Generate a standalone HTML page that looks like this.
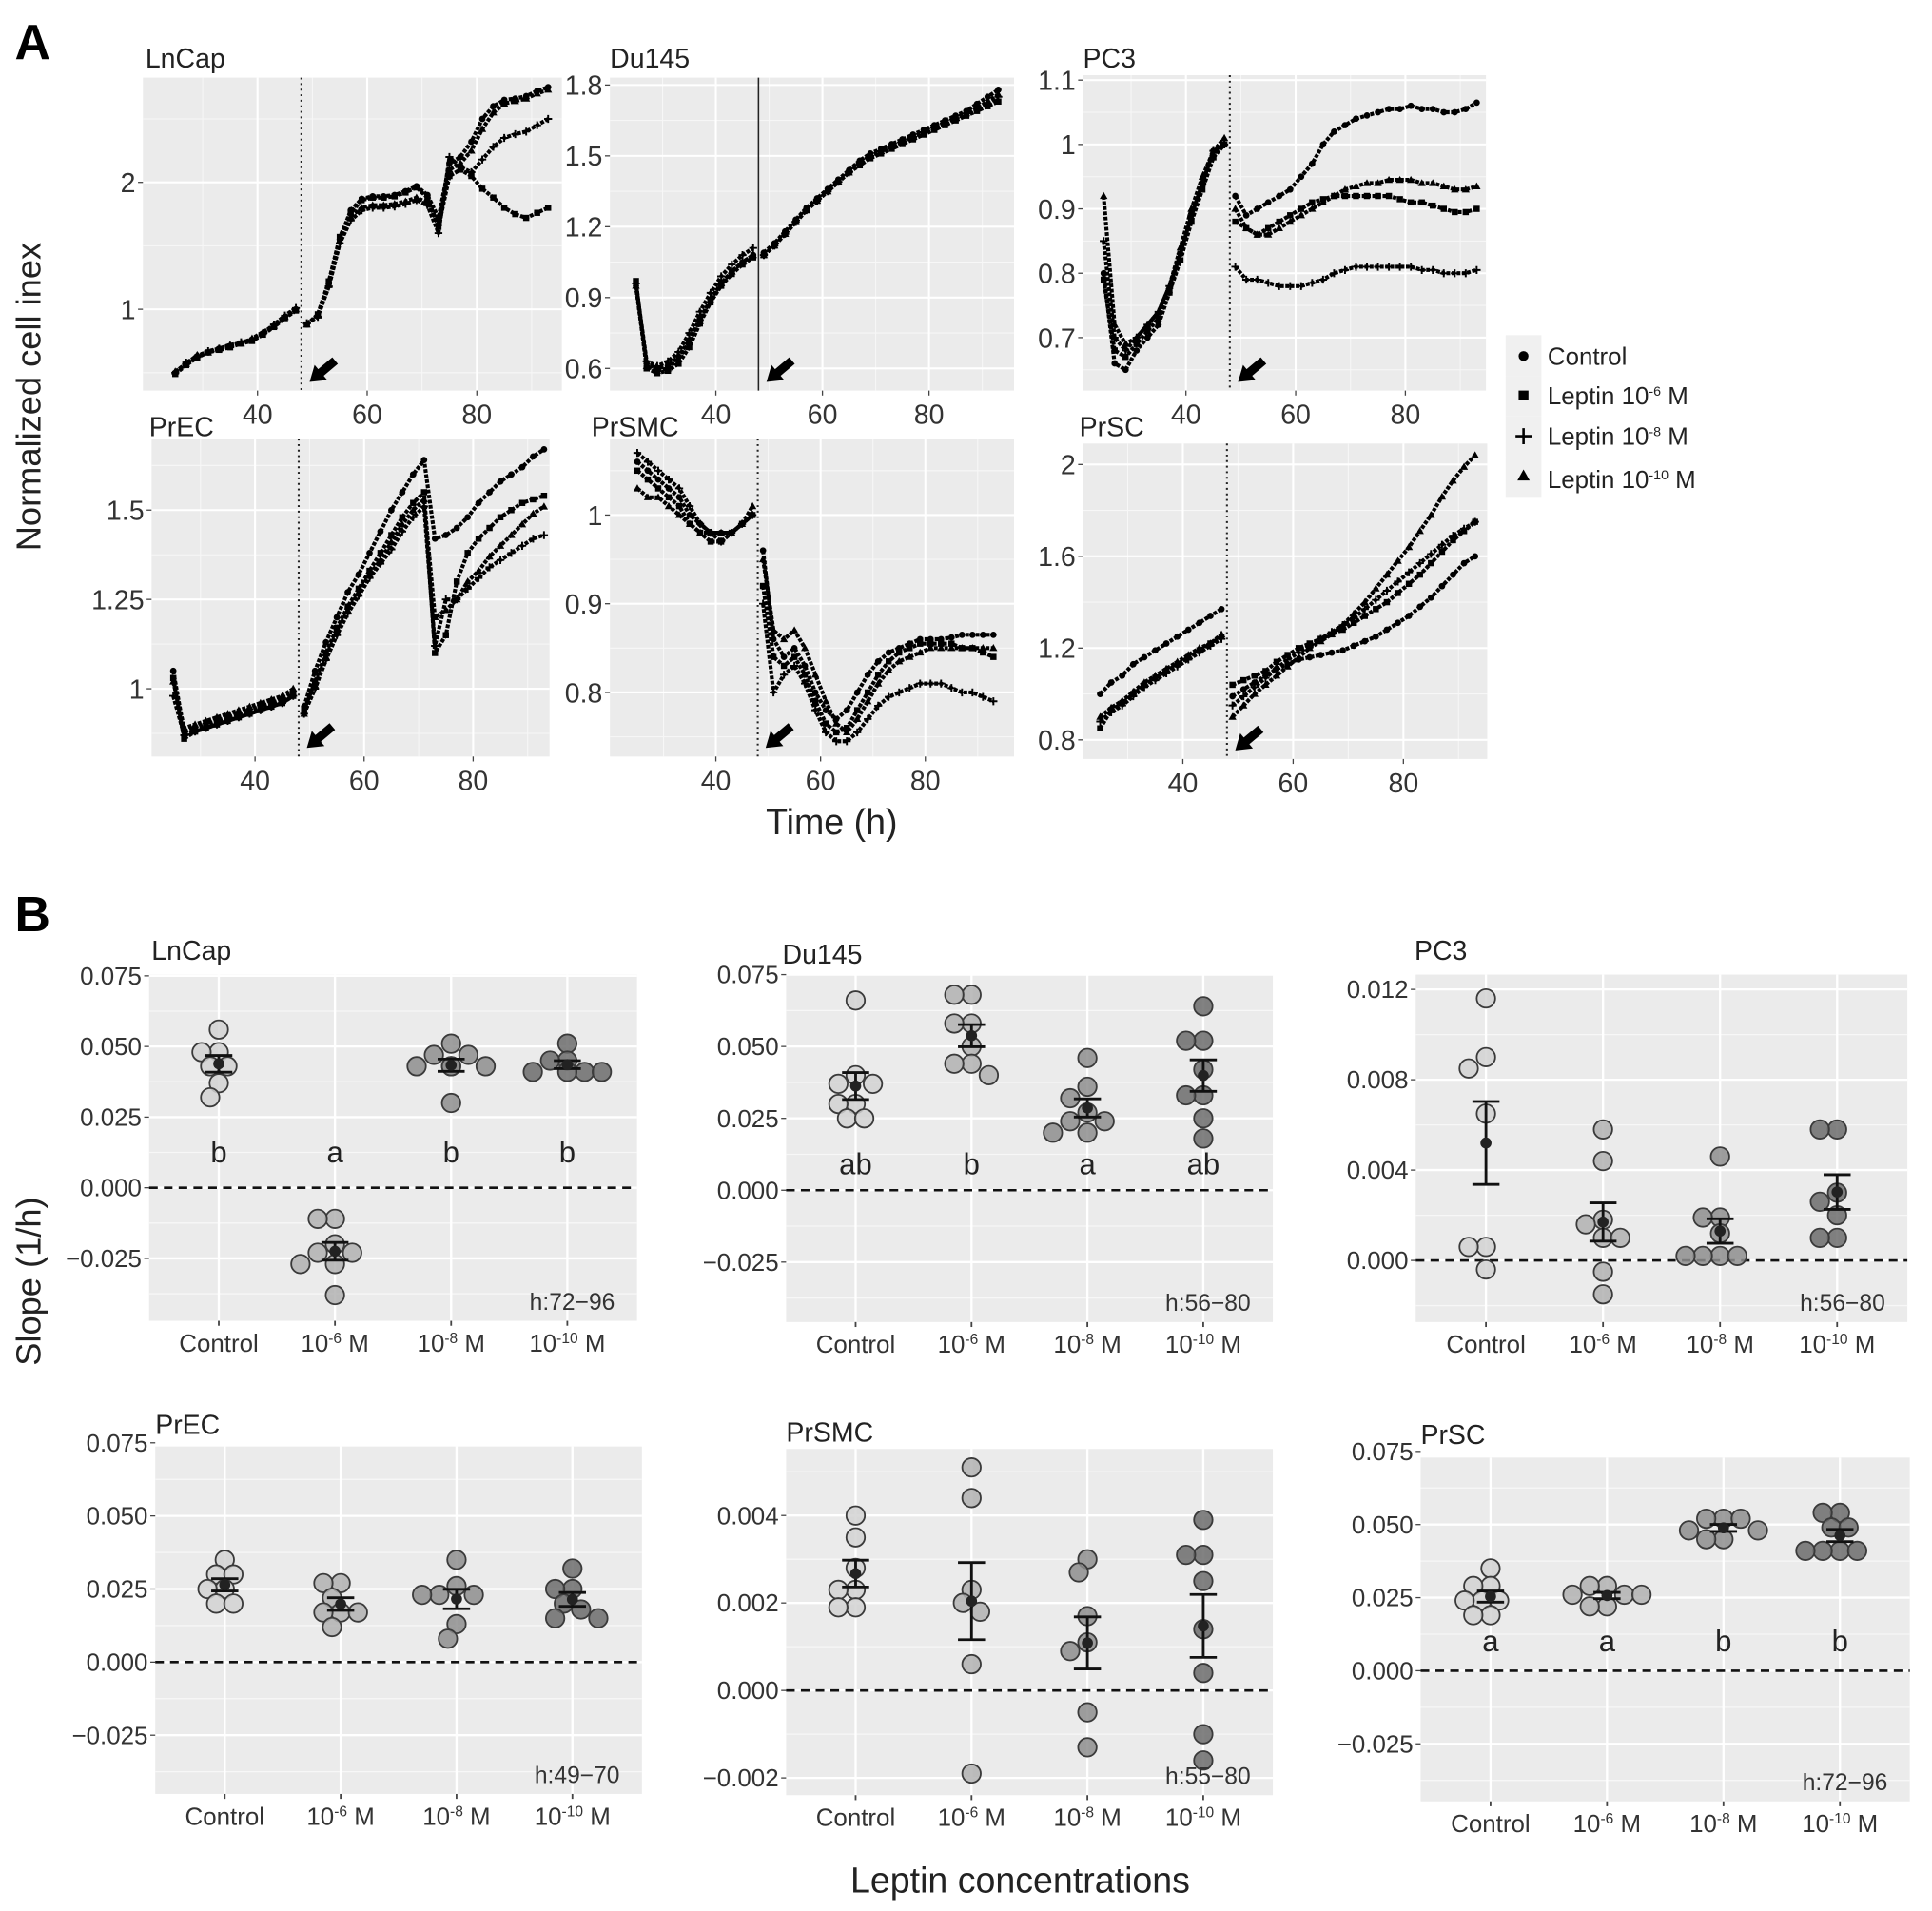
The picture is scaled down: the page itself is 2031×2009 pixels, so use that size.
<!DOCTYPE html>
<html><head><meta charset="utf-8"><style>
html,body{margin:0;padding:0;background:#fff;}
svg{display:block;font-family:"Liberation Sans",Arial,sans-serif;}
</style></head><body>
<svg id="fig" width="2031" height="2009" viewBox="0 0 1568 1551" preserveAspectRatio="none" xmlns="http://www.w3.org/2000/svg">
<rect x="0" y="0" width="1568" height="1551" fill="#fff"/>
<text x="12" y="48" font-size="40" font-weight="bold">A</text>
<text x="12" y="756" font-size="40" font-weight="bold">B</text>
<text transform="translate(33,322) rotate(-90)" text-anchor="middle" font-size="28" fill="#222">Normalized cell inex</text>
<text x="675" y="677" text-anchor="middle" font-size="29" fill="#222">Time (h)</text>
<text transform="translate(33,1040) rotate(-90)" text-anchor="middle" font-size="28" fill="#222">Slope (1/h)</text>
<text x="828" y="1536" text-anchor="middle" font-size="29" fill="#222">Leptin concentrations</text>
<g font-size="20" fill="#222">
<rect x="1222" y="272" width="29" height="33" fill="#f0f0f0"/>
<circle cx="1236.5" cy="289" r="4" fill="#000"/>
<text x="1256" y="296">Control</text>
<rect x="1222" y="305" width="29" height="33" fill="#f0f0f0"/>
<rect x="1232.5" y="317" width="8" height="8" fill="#000"/>
<text x="1256" y="328">Leptin 10<tspan dy="-7" font-size="11">-6</tspan><tspan dy="7"> M</tspan></text>
<rect x="1222" y="338" width="29" height="33" fill="#f0f0f0"/>
<path d="M1230 354H1243M1236.5 347.5V360.5" stroke="#000" stroke-width="2"/>
<text x="1256" y="361">Leptin 10<tspan dy="-7" font-size="11">-8</tspan><tspan dy="7"> M</tspan></text>
<rect x="1222" y="371" width="29" height="33" fill="#f0f0f0"/>
<polygon points="1236.5,381 1241.5,390 1231.5,390" fill="#000"/>
<text x="1256" y="396">Leptin 10<tspan dy="-7" font-size="11">-10</tspan><tspan dy="7"> M</tspan></text>
</g>
</svg>
<script>
// ---------- Panel A data ----------
const timesA = [25,27,29,31,33,35,37,39,41,43,45,47,49,51,53,55,57,59,61,63,65,67,69,71,73,75,77,79,81,83,85,87,89,91,93];
const xTicksA = [40,60,80];
const lncapCtrl = [0.50,0.57,0.63,0.66,0.69,0.71,0.73,0.76,0.81,0.87,0.94,1.00, 0.88,0.95,1.20,1.55,1.78,1.87,1.89,1.89,1.90,1.93,1.97,1.90,1.72,2.15,2.20,2.32,2.50,2.60,2.65,2.66,2.68,2.72,2.75];
const lncapL6 = [0.49,0.56,0.62,0.66,0.68,0.70,0.73,0.75,0.80,0.86,0.93,0.99, 0.88,0.96,1.22,1.57,1.76,1.86,1.88,1.88,1.89,1.92,1.96,1.88,1.65,2.05,2.10,2.05,1.95,1.88,1.80,1.75,1.72,1.76,1.80];
const lncapL8 = [0.50,0.58,0.63,0.67,0.69,0.71,0.74,0.76,0.81,0.88,0.95,1.01, 0.89,0.94,1.18,1.52,1.70,1.78,1.80,1.80,1.81,1.83,1.86,1.82,1.60,2.20,2.12,2.08,2.18,2.28,2.35,2.38,2.40,2.45,2.50];
const lncapL10 = [0.51,0.57,0.64,0.66,0.69,0.72,0.73,0.77,0.82,0.87,0.94,1.00, 0.88,0.95,1.19,1.54,1.73,1.80,1.82,1.82,1.83,1.85,1.88,1.84,1.68,2.10,2.15,2.25,2.42,2.55,2.62,2.64,2.66,2.70,2.73];
const lncapYTicks = [1,2];
const du145Ctrl = [0.95,0.62,0.60,0.61,0.65,0.72,0.81,0.89,0.96,1.01,1.05,1.08, 1.09,1.13,1.18,1.23,1.28,1.32,1.36,1.40,1.44,1.48,1.51,1.53,1.55,1.57,1.59,1.61,1.63,1.65,1.67,1.69,1.72,1.75,1.78];
const du145L6 = [0.97,0.60,0.58,0.59,0.62,0.69,0.79,0.88,0.95,1.00,1.04,1.07, 1.08,1.12,1.17,1.22,1.27,1.31,1.35,1.39,1.43,1.46,1.49,1.51,1.53,1.55,1.57,1.59,1.61,1.63,1.65,1.67,1.69,1.71,1.73];
const du145L8 = [0.96,0.63,0.61,0.63,0.67,0.75,0.84,0.92,0.99,1.04,1.08,1.11, 1.08,1.12,1.17,1.22,1.27,1.31,1.35,1.39,1.43,1.47,1.50,1.52,1.54,1.56,1.58,1.60,1.62,1.64,1.66,1.68,1.70,1.72,1.75];
const du145L10 = [0.95,0.61,0.59,0.60,0.64,0.71,0.80,0.89,0.96,1.01,1.05,1.08, 1.08,1.12,1.17,1.22,1.27,1.31,1.35,1.39,1.43,1.47,1.50,1.52,1.54,1.56,1.58,1.60,1.62,1.64,1.66,1.68,1.70,1.73,1.76];
const du145YTicks = [0.6,0.9,1.2,1.5,1.8];
const pc3Ctrl = [0.80,0.66,0.65,0.68,0.70,0.72,0.77,0.83,0.89,0.94,0.99,1.00, 0.92,0.89,0.90,0.91,0.92,0.93,0.95,0.97,1.00,1.02,1.03,1.04,1.045,1.05,1.055,1.055,1.06,1.055,1.055,1.05,1.05,1.055,1.065];
const pc3L6 = [0.79,0.68,0.67,0.69,0.71,0.73,0.77,0.82,0.88,0.93,0.98,1.00, 0.88,0.87,0.86,0.87,0.88,0.89,0.90,0.91,0.915,0.92,0.92,0.92,0.92,0.92,0.92,0.915,0.91,0.91,0.905,0.90,0.895,0.895,0.90];
const pc3L8 = [0.85,0.70,0.68,0.70,0.72,0.74,0.78,0.83,0.89,0.94,0.99,1.00, 0.81,0.79,0.79,0.785,0.78,0.78,0.78,0.785,0.79,0.80,0.805,0.81,0.81,0.81,0.81,0.81,0.81,0.805,0.805,0.80,0.80,0.80,0.805];
const pc3L10 = [0.92,0.72,0.69,0.70,0.72,0.74,0.78,0.84,0.90,0.95,0.99,1.01, 0.90,0.87,0.86,0.86,0.87,0.88,0.89,0.90,0.91,0.92,0.93,0.935,0.94,0.94,0.945,0.945,0.945,0.94,0.94,0.935,0.93,0.93,0.935];
const pc3YTicks = [0.7,0.8,0.9,1,1.1];
const precCtrl = [1.05,0.88,0.89,0.90,0.91,0.92,0.93,0.94,0.95,0.96,0.97,0.99, 0.95,1.05,1.13,1.20,1.27,1.32,1.38,1.44,1.50,1.55,1.60,1.64,1.42,1.43,1.45,1.48,1.52,1.55,1.58,1.60,1.62,1.65,1.67];
const precL6 = [1.03,0.86,0.88,0.89,0.90,0.91,0.92,0.93,0.94,0.95,0.96,0.98, 0.94,1.02,1.10,1.17,1.23,1.28,1.33,1.38,1.43,1.48,1.52,1.55,1.10,1.15,1.30,1.38,1.42,1.45,1.48,1.50,1.52,1.53,1.54];
const precL8 = [0.98,0.87,0.88,0.89,0.90,0.91,0.92,0.93,0.94,0.95,0.96,0.98, 0.93,1.00,1.08,1.15,1.21,1.26,1.31,1.35,1.39,1.44,1.48,1.51,1.12,1.25,1.25,1.28,1.31,1.34,1.36,1.38,1.40,1.42,1.43];
const precL10 = [1.02,0.89,0.90,0.91,0.92,0.93,0.94,0.95,0.96,0.97,0.98,1.00, 0.93,1.01,1.09,1.16,1.22,1.27,1.32,1.36,1.41,1.46,1.50,1.53,1.20,1.22,1.25,1.30,1.33,1.37,1.40,1.43,1.46,1.49,1.51];
const precYTicks = [1,1.25,1.5];
const prsmcCtrl = [1.06,1.05,1.04,1.03,1.02,1.00,0.99,0.98,0.98,0.98,0.99,1.00, 0.96,0.86,0.84,0.85,0.83,0.80,0.78,0.77,0.78,0.80,0.82,0.835,0.845,0.85,0.855,0.86,0.86,0.86,0.862,0.865,0.865,0.865,0.865];
const prsmcL6 = [1.05,1.04,1.03,1.02,1.01,0.99,0.98,0.97,0.97,0.98,0.99,1.00, 0.92,0.84,0.83,0.84,0.82,0.79,0.765,0.755,0.76,0.78,0.80,0.82,0.835,0.845,0.85,0.855,0.855,0.855,0.855,0.85,0.85,0.845,0.84];
const prsmcL8 = [1.07,1.06,1.05,1.04,1.03,1.01,0.99,0.98,0.97,0.98,0.99,1.00, 0.90,0.80,0.82,0.83,0.81,0.78,0.755,0.745,0.745,0.755,0.77,0.785,0.795,0.80,0.805,0.81,0.81,0.81,0.805,0.80,0.80,0.795,0.79];
const prsmcL10 = [1.03,1.02,1.02,1.01,1.00,0.99,0.98,0.98,0.98,0.98,0.99,1.01, 0.95,0.87,0.86,0.87,0.85,0.82,0.79,0.765,0.755,0.77,0.79,0.81,0.825,0.835,0.84,0.845,0.85,0.85,0.85,0.85,0.85,0.85,0.85];
const prsmcYTicks = [0.8,0.9,1];
const prscCtrl = [1.00,1.05,1.08,1.13,1.16,1.19,1.22,1.25,1.28,1.31,1.34,1.37, 0.99,1.02,1.05,1.08,1.11,1.13,1.15,1.16,1.17,1.18,1.19,1.21,1.23,1.25,1.28,1.31,1.34,1.38,1.42,1.47,1.52,1.57,1.60];
const prscL6 = [0.85,0.93,0.96,1.00,1.04,1.07,1.10,1.13,1.16,1.19,1.22,1.25, 1.04,1.06,1.08,1.10,1.14,1.17,1.20,1.22,1.24,1.26,1.28,1.31,1.34,1.37,1.40,1.44,1.48,1.52,1.57,1.62,1.67,1.71,1.75];
const prscL8 = [0.88,0.92,0.95,0.99,1.03,1.06,1.09,1.12,1.15,1.18,1.21,1.24, 0.95,0.99,1.03,1.07,1.11,1.15,1.18,1.21,1.24,1.27,1.30,1.33,1.37,1.41,1.45,1.49,1.53,1.57,1.61,1.65,1.69,1.72,1.75];
const prscL10 = [0.90,0.94,0.97,1.01,1.05,1.08,1.11,1.14,1.17,1.20,1.22,1.26, 0.90,0.95,1.00,1.04,1.08,1.12,1.16,1.20,1.23,1.26,1.30,1.35,1.40,1.46,1.52,1.58,1.64,1.71,1.78,1.86,1.93,1.99,2.04];
const prscYTicks = [0.8,1.2,1.6,2];

// ---------- Panel B data ----------
const groupLabels = ["Control","10-6","10-8","10-10"];
const lncapB = [[0.056,0.048,0.048,0.043,0.043,0.037,0.032],[-0.011,-0.011,-0.020,-0.023,-0.023,-0.027,-0.027,-0.038],[0.051,0.047,0.047,0.043,0.043,0.043,0.043,0.030],[0.051,0.045,0.045,0.041,0.041,0.041,0.041]];
const du145B = [[0.066,0.040,0.037,0.037,0.030,0.030,0.025,0.025],[0.068,0.068,0.058,0.058,0.050,0.044,0.044,0.040],[0.046,0.036,0.032,0.027,0.024,0.024,0.020,0.020],[0.064,0.052,0.052,0.042,0.033,0.033,0.025,0.018]];
const pc3B = [[0.0116,0.0090,0.0085,0.0065,0.0006,0.0006,-0.0004],[0.0058,0.0044,0.0018,0.0016,0.0010,0.0010,-0.0005,-0.0015],[0.0046,0.0019,0.0019,0.0012,0.0002,0.0002,0.0002,0.0002],[0.0058,0.0058,0.0030,0.0026,0.0020,0.0010,0.0010]];
const precB = [[0.035,0.030,0.030,0.025,0.025,0.020,0.020],[0.027,0.027,0.022,0.017,0.017,0.017,0.012],[0.035,0.026,0.023,0.023,0.023,0.013,0.008],[0.032,0.025,0.025,0.020,0.018,0.015,0.015]];
const prsmcB = [[0.0040,0.0035,0.0028,0.0023,0.0023,0.0019,0.0019],[0.0051,0.0044,0.0023,0.0020,0.0018,0.0006,-0.0019],[0.0030,0.0027,0.0017,0.0011,0.0009,-0.0005,-0.0013],[0.0039,0.0031,0.0031,0.0025,0.0014,0.0004,-0.0010,-0.0016]];
const prscB = [[0.035,0.029,0.029,0.024,0.024,0.024,0.019,0.019],[0.029,0.029,0.026,0.026,0.026,0.022,0.022],[0.052,0.052,0.052,0.048,0.048,0.045,0.045],[0.054,0.054,0.049,0.049,0.041,0.041,0.041,0.041]];
const lncapBTicks = [-0.025,0,0.025,0.05,0.075];
const du145BTicks = [-0.025,0,0.025,0.05,0.075];
const pc3BTicks = [0,0.004,0.008,0.012];
const precBTicks = [-0.025,0,0.025,0.05,0.075];
const prsmcBTicks = [-0.002,0,0.002,0.004];
const prscBTicks = [-0.025,0,0.025,0.05,0.075];
const lncapLetters = ["b","a","b","b"];
const du145Letters = ["ab","b","a","ab"];
const prscLetters = ["a","a","b","b"];

// ---------- drawing ----------
const NS = "http://www.w3.org/2000/svg";
const svg = document.getElementById("fig");
function mk(tag, attrs, parent) {
  const e = document.createElementNS(NS, tag);
  for (const k in attrs) e.setAttribute(k, attrs[k]);
  (parent || svg).appendChild(e);
  return e;
}
function lin(v0, p0, v1, p1) { return v => p0 + (v - v0) * (p1 - p0) / (v1 - v0); }
function fmtA(v) { return String(v); }

const panelsA = [
  {id:"lncap", title:"LnCap", L:116,R:456,T:63,B:317, tx:[40,209,80,387], ty:[1,251,2,148], yt:lncapYTicks, s:[lncapCtrl,lncapL6,lncapL8,lncapL10], tl:[118,55], solid:false},
  {id:"du145", title:"Du145", L:495,R:823,T:63,B:317, tx:[40,581,80,754], ty:[0.6,299,1.8,69], yt:du145YTicks, s:[du145Ctrl,du145L6,du145L8,du145L10], tl:[495,55], solid:true},
  {id:"pc3", title:"PC3", L:879,R:1206,T:61,B:317, tx:[40,962.5,80,1140.6], ty:[0.7,274,1.1,65], yt:pc3YTicks, s:[pc3Ctrl,pc3L6,pc3L8,pc3L10], tl:[879,55], solid:false},
  {id:"prec", title:"PrEC", L:123,R:446,T:356,B:614, tx:[40,207,80,384], ty:[1,559,1.5,414], yt:precYTicks, s:[precCtrl,precL6,precL8,precL10], tl:[121,354], solid:false},
  {id:"prsmc", title:"PrSMC", L:495,R:823,T:356,B:614, tx:[40,581,80,751], ty:[0.8,562,1,418], yt:prsmcYTicks, s:[prsmcCtrl,prsmcL6,prsmcL8,prsmcL10], tl:[480,354], solid:false},
  {id:"prsc", title:"PrSC", L:879,R:1207,T:360,B:616, tx:[40,960,80,1139], ty:[1.2,526,2,377], yt:prscYTicks, s:[prscCtrl,prscL6,prscL8,prscL10], tl:[876,354], solid:false}
];
const seriesNames = ["control","leptin-1e-6","leptin-1e-8","leptin-1e-10"];

function marker(kind, x, y, g) {
  let e;
  if (kind === 0) e = mk("circle", {cx:x, cy:y, r:2.6, fill:"#000"}, g);
  else if (kind === 1) e = mk("rect", {x:x-2.5, y:y-2.5, width:5, height:5, fill:"#000"}, g);
  else if (kind === 2) e = mk("path", {d:`M${x-3.2} ${y}H${x+3.2}M${x} ${y-3.2}V${y+3.2}`, stroke:"#000", "stroke-width":1.5}, g);
  else e = mk("polygon", {points:`${x},${y-3.3} ${x+3.2},${y+2.4} ${x-3.2},${y+2.4}`, fill:"#000"}, g);
  return e;
}

panelsA.forEach(p => {
  const X = lin(p.tx[0], p.tx[1], p.tx[2], p.tx[3]);
  const Y = lin(p.ty[0], p.ty[1], p.ty[2], p.ty[3]);
  const g = mk("g", {});
  
  
  const bg = mk("rect", {x:p.L, y:p.T, width:p.R-p.L, height:p.B-p.T, fill:"#ebebeb"}, g);
  
  
  const step = p.yt[1] - p.yt[0];
  for (let i = -1; i < p.yt.length; i++) {
    const v = p.yt[0] + (i + 0.5) * step;
    const y = Y(v);
    if (y > p.T && y < p.B) {
      const l = mk("line", {x1:p.L, x2:p.R, y1:y, y2:y, stroke:"#f7f7f7", "stroke-width":0.8}, g);
      
      
    }
  }
  [30,50,70,90].forEach(t => {
    const x = X(t);
    if (x > p.L && x < p.R) {
      const l = mk("line", {x1:x, x2:x, y1:p.T, y2:p.B, stroke:"#f7f7f7", "stroke-width":0.8}, g);
      
      
    }
  });
  p.yt.forEach(v => {
    const y = Y(v);
    const l = mk("line", {x1:p.L, x2:p.R, y1:y, y2:y, stroke:"#fff", "stroke-width":1.6}, g);
    
    
    const tk = mk("line", {x1:p.L-4, x2:p.L, y1:y, y2:y, stroke:"#444", "stroke-width":1}, g);
    
    
    const tx = mk("text", {x:p.L-6, y:y+8, "text-anchor":"end", "font-size":22, fill:"#333"}, g);
    
    
    tx.textContent = fmtA(v);
  });
  xTicksA.forEach(t => {
    const x = X(t);
    const l = mk("line", {x1:x, x2:x, y1:p.T, y2:p.B, stroke:"#fff", "stroke-width":1.6}, g);
    
    
    const tk = mk("line", {x1:x, x2:x, y1:p.B, y2:p.B+4, stroke:"#444", "stroke-width":1}, g);
    
    
    const tx = mk("text", {x:x, y:p.B+27, "text-anchor":"middle", "font-size":22, fill:"#333"}, g);
    
    
    tx.textContent = t;
  });
  const vx = X(48);
  const vl = mk("line", {x1:vx, x2:vx, y1:p.T, y2:p.B, stroke:"#222", "stroke-width":p.solid?1.2:1.6, "stroke-dasharray":p.solid?"none":"1.5 3"}, g);
  
  
  p.s.forEach((vals, si) => {
    const sg = mk("g", {}, g);
    
    
    const pre = [], post = [];
    vals.forEach((v, i) => {
      const pt = X(timesA[i]).toFixed(1) + "," + Y(v).toFixed(1);
      if (timesA[i] < 48) pre.push(pt); else post.push(pt);
    });
    [pre, post].forEach(pts => {
      const pl = mk("polyline", {points:pts.join(" "), fill:"none", stroke:"#000", "stroke-width":3.2, "stroke-linejoin":"round", "stroke-dasharray":"3 1.2"}, sg);
      
      
    });
    vals.forEach((v, i) => {
      const m = marker(si, X(timesA[i]), Y(v), sg);
      
      
    });
  });
  const ar = mk("g", {transform:`translate(${X(49.5)},${p.B-7}) rotate(-40)`}, g);
  
  
  const ah = mk("polygon", {points:"0,0 12,-8 12,8", fill:"#000"}, ar);
  
  
  const as = mk("rect", {x:10, y:-3.5, width:17, height:7, fill:"#000"}, ar);
  
  
  const tt = mk("text", {x:p.tl[0], y:p.tl[1], "font-size":22, fill:"#222"}, g);
  
  
  tt.textContent = p.title;
});

// ---------- Panel B ----------
const panelsB = [
  {id:"lncap", title:"LnCap", L:121,R:517,T:791,B:1072, ty:[0,964,0.075,792], yt:lncapBTicks, d:lncapB, letters:lncapLetters, letterVal:0.0125, h:"h:72\u221296", tl:[123,779]},
  {id:"du145", title:"Du145", L:638,R:1033,T:791,B:1073, ty:[0,966,0.075,791], yt:du145BTicks, d:du145B, letters:du145Letters, letterVal:0.009, h:"h:56\u221280", tl:[635,782]},
  {id:"pc3", title:"PC3", L:1149,R:1548,T:791,B:1073, ty:[0,1023,0.012,803], yt:pc3BTicks, d:pc3B, letters:null, h:"h:56\u221280", tl:[1148,779]},
  {id:"prec", title:"PrEC", L:126,R:521,T:1174,B:1456, ty:[0,1349,0.075,1171], yt:precBTicks, d:precB, letters:null, h:"h:49\u221270", tl:[126,1164]},
  {id:"prsmc", title:"PrSMC", L:638,R:1033,T:1176,B:1457, ty:[0,1372,0.004,1230], yt:prsmcBTicks, d:prsmcB, letters:null, h:"h:55\u221280", tl:[638,1170]},
  {id:"prsc", title:"PrSC", L:1153,R:1550,T:1183,B:1462, ty:[0,1356,0.075,1178], yt:prscBTicks, d:prscB, letters:prscLetters, letterVal:0.010, h:"h:72\u221296", tl:[1153,1172]}
];
const fillCols = ["#d2d2d2","#b2b2b2","#8e8e8e","#6c6c6c"];
function fmtB(v) {
  const s = v.toFixed(3);
  return v < 0 ? "\u2212" + s.slice(1) : s;
}
function catLabel(txt, x, y, parent) {
  const t = mk("text", {x:x, y:y, "text-anchor":"middle", "font-size":20, fill:"#333"}, parent);
  if (txt === "Control") { t.textContent = "Control"; }
  else {
    const exp = txt.slice(2);
    const a = mk("tspan", {}, t); a.textContent = "10";
    const b = mk("tspan", {dy:-7, "font-size":12}, t); b.textContent = "-" + exp.replace("-","");
    const c = mk("tspan", {dy:7}, t); c.textContent = " M";
  }
  return t;
}
panelsB.forEach(p => {
  const Y = lin(p.ty[0], p.ty[1], p.ty[2], p.ty[3]);
  const unit = (p.R - p.L) / 4.2;
  const Xc = i => p.L + (i + 0.6) * unit;
  const g = mk("g", {});
  
  
  const bg = mk("rect", {x:p.L, y:p.T, width:p.R-p.L, height:p.B-p.T, fill:"#ebebeb"}, g);
  
  
  const step = p.yt[1] - p.yt[0];
  for (let i = -1; i < p.yt.length; i++) {
    const y = Y(p.yt[0] + (i + 0.5) * step);
    if (y > p.T && y < p.B) {
      const l = mk("line", {x1:p.L, x2:p.R, y1:y, y2:y, stroke:"#f7f7f7", "stroke-width":1}, g);
      
      
    }
  }
  p.yt.forEach(v => {
    const y = Y(v);
    const l = mk("line", {x1:p.L, x2:p.R, y1:y, y2:y, stroke:"#fff", "stroke-width":1.8}, g);
    
    
    const tk = mk("line", {x1:p.L-4, x2:p.L, y1:y, y2:y, stroke:"#444", "stroke-width":1}, g);
    
    
    const tx = mk("text", {x:p.L-6, y:y+7, "text-anchor":"end", "font-size":20, fill:"#333"}, g);
    
    
    tx.textContent = fmtB(v);
  });
  groupLabels.forEach((lab, i) => {
    const x = Xc(i);
    const l = mk("line", {x1:x, x2:x, y1:p.T, y2:p.B, stroke:"#fff", "stroke-width":1.8}, g);
    
    
    const tk = mk("line", {x1:x, x2:x, y1:p.B, y2:p.B+4, stroke:"#444", "stroke-width":1.4}, g);
    
    
    const t = catLabel(lab, x, p.B + 25, g);
    
    
  });
  const zl = mk("line", {x1:p.L, x2:p.R, y1:Y(0), y2:Y(0), stroke:"#111", "stroke-width":2, "stroke-dasharray":"7 5"}, g);
  
  
  const r = 7.5;
  p.d.forEach((vals, gi) => {
    const cx = Xc(gi);
    const gg = mk("g", {}, g);
    
    
    const placed = [];
    vals.forEach(v => {
      const y = Y(v);
      const offs = [0,-1,1,-2,2,-3,3,-4,4];
      let x = cx;
      for (const k of offs) {
        const cand = cx + k * 7;
        if (placed.every(q => Math.hypot(q[0]-cand, q[1]-y) >= 2*r*0.8)) { x = cand; break; }
      }
      placed.push([x, y]);
      const c = mk("circle", {cx:x, cy:y, r:r, fill:fillCols[gi], "fill-opacity":0.85, stroke:"#3a3a3a", "stroke-width":1.4}, gg);
      
      
    });
    const n = vals.length;
    const mean = vals.reduce((a,b)=>a+b,0)/n;
    const sd = Math.sqrt(vals.reduce((a,b)=>a+(b-mean)*(b-mean),0)/(n-1));
    const se = sd/Math.sqrt(n);
    const eb = mk("path", {d:`M${cx-11} ${Y(mean+se)}H${cx+11}M${cx} ${Y(mean+se)}V${Y(mean-se)}M${cx-11} ${Y(mean-se)}H${cx+11}`, stroke:"#111", "stroke-width":2.2, fill:"none"}, gg);
    
    
    const mp = mk("circle", {cx:cx, cy:Y(mean), r:4.5, fill:"#222"}, gg);
    
    
    if (p.letters) {
      const lt = mk("text", {x:cx, y:Y(p.letterVal)+8, "text-anchor":"middle", "font-size":24, fill:"#222"}, gg);
      
      
      lt.textContent = p.letters[gi];
    }
  });
  const hl = mk("text", {x:p.R-18, y:p.B-9, "text-anchor":"end", "font-size":19, fill:"#333"}, g);
  
  
  hl.textContent = p.h;
  const tt = mk("text", {x:p.tl[0], y:p.tl[1], "font-size":22, fill:"#222"}, g);
  
  
  tt.textContent = p.title;
});
</script>
</body></html>
